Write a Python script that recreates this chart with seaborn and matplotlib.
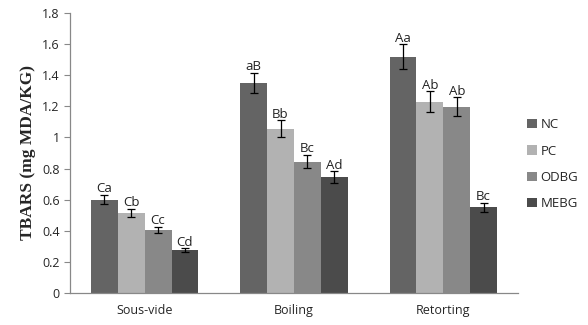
import matplotlib
matplotlib.use("Agg")
import matplotlib.pyplot as plt
from matplotlib.ticker import FormatStrFormatter, FixedLocator
import seaborn as sns
import pandas as pd

methods = ["Sous-vide", "Boiling", "Retorting"]
groups = ["NC", "PC", "ODBG", "MEBG"]
colors = ["#646464", "#b2b2b2", "#888888", "#4b4b4b"]

nc = [0.60, 1.35, 1.52]
pc = [0.515, 1.055, 1.23]
odbg = [0.405, 0.845, 1.197]
mebg = [0.275, 0.747, 0.551]

nc_err = [0.03, 0.065, 0.08]
pc_err = [0.025, 0.054, 0.068]
odbg_err = [0.02, 0.043, 0.061]
mebg_err = [0.012, 0.037, 0.03]

nc_lab = ["Ca", "aB", "Aa"]
pc_lab = ["Cb", "Bb", "Ab"]
odbg_lab = ["Cc", "Bc", "Ab"]
mebg_lab = ["Cd", "Ad", "Bc"]

vals = [nc, pc, odbg, mebg]
errs = [nc_err, pc_err, odbg_err, mebg_err]
labs = [nc_lab, pc_lab, odbg_lab, mebg_lab]

rows = []
for g, v in zip(groups, vals):
    for m, x in zip(methods, v):
        rows.append({"Method": m, "Group": g, "TBARS": x})
df = pd.DataFrame(rows)

sns.set_style("white")
plt.rcParams["font.family"] = ["Open Sans", "DejaVu Sans"]

fig = plt.figure(figsize=(5.88, 3.25), dpi=100)
ax = fig.add_axes([0.119, 0.0985, 0.762, 0.8615])

sns.barplot(data=df, x="Method", y="TBARS", hue="Group", order=methods,
            hue_order=groups, palette=colors, errorbar=None, width=0.72,
            saturation=1, ax=ax, edgecolor="none")

# error bars and letters on each bar
for gi, g in enumerate(groups):
    cont = ax.containers[gi]
    for mi, bar in enumerate(cont):
        xc = bar.get_x() + bar.get_width() / 2
        h = bar.get_height()
        e = errs[gi][mi]
        ax.errorbar(xc, h, yerr=e, color="black", capsize=3, elinewidth=0.9,
                    capthick=0.9)
        ax.text(xc, h + e - 0.003, labs[gi][mi], ha="center", va="bottom",
                fontsize=9.5, color="#222222")

ax.set_ylim(0, 1.8)
ax.set_xlim(-0.5, 2.5)
ax.set_yticks([0, 0.2, 0.4, 0.6, 0.8, 1.0, 1.2, 1.4, 1.6, 1.8])
ax.yaxis.set_major_formatter(FormatStrFormatter("%g"))
ax.xaxis.set_minor_locator(FixedLocator([-0.5, 0.5, 1.5, 2.5]))
ax.tick_params(axis="x", which="major", length=0, labelsize=9, pad=8)
ax.tick_params(axis="x", which="minor", length=4, color="#888888", direction="out")
ax.tick_params(axis="y", length=4, color="#888888", direction="out",
               labelsize=9, left=True)
ax.set_xlabel("")
ax.set_ylabel("TBARS (mg MDA/KG)", family="Liberation Serif",
              fontweight="bold", fontsize=12.5)

sns.despine(ax=ax)
for s in ["left", "bottom"]:
    ax.spines[s].set_color("#888888")
    ax.spines[s].set_linewidth(0.9)

ax.legend(loc="center left", bbox_to_anchor=(1.0, 0.46), frameon=False,
          fontsize=9.5, handlelength=0.7, handleheight=0.7, labelspacing=1.0,
          handletextpad=0.3, borderaxespad=0.3)

fig.savefig("out.png", dpi=100)
